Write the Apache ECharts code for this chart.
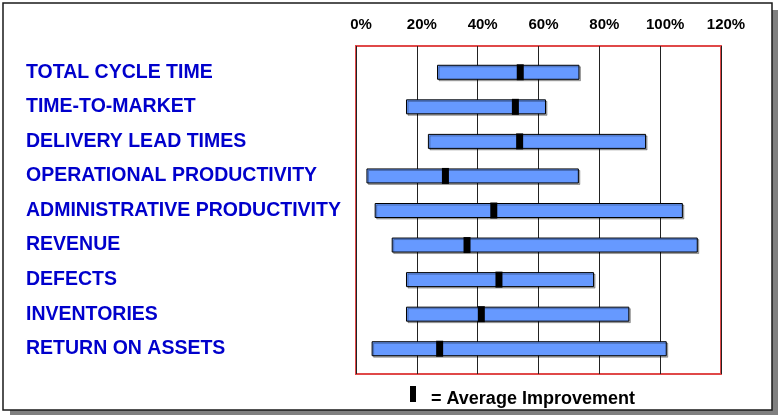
<!DOCTYPE html>
<html>
<head>
<meta charset="utf-8">
<script src="https://cdn.jsdelivr.net/npm/echarts@6/dist/echarts.min.js"></script>
<style>
html,body{margin:0;padding:0;background:#fff;}
#chart{width:778px;height:415px;}
</style>
</head>
<body>
<div id="chart"></div>
<script>
var categories = ['TOTAL CYCLE TIME','TIME-TO-MARKET','DELIVERY LEAD TIMES','OPERATIONAL PRODUCTIVITY','ADMINISTRATIVE PRODUCTIVITY','REVENUE','DEFECTS','INVENTORIES','RETURN ON ASSETS'];
var lowValues = [26.8, 16.6, 23.8, 3.6, 6.3, 11.9, 16.6, 16.6, 5.3];
var highValues = [73.3, 62.3, 95.2, 73.1, 107.3, 112.2, 78.1, 89.7, 102.0];
var averageValues = [54.0, 52.4, 53.8, 29.4, 45.3, 36.5, 47.0, 41.2, 27.5];
var xTicks = [0, 20, 40, 60, 80, 100, 120];
var legendText = '= Average Improvement';

var chart = echarts.init(document.getElementById('chart'), null, {renderer:'canvas'});

var rangeData = categories.map(function(c, i){ return [lowValues[i], highValues[i], i]; });
var avgData = categories.map(function(c, i){ return [averageValues[i], i]; });

var option = {
  animation: false,
  backgroundColor: '#fff',
  graphic: [
    {type:'rect', z:-10, shape:{x:10, y:10, width:768, height:405}, style:{fill:'#808080'}},
    {type:'rect', z:-9, shape:{x:3, y:3, width:769, height:407}, style:{fill:'#fff', stroke:'#1a1a1a', lineWidth:1.5}},
    {type:'rect', z:10, shape:{x:410, y:386, width:6, height:16}, style:{fill:'#000'}},
    {type:'text', z:10, x:431, y:399, style:{text:legendText, fill:'#000', font:'bold 18px "Liberation Sans", Arial, sans-serif', textVerticalAlign:'middle'}}
  ],
  grid: [
    {left:356, right:57, top:46, bottom:41, show:true, borderColor:'#e04848', borderWidth:2, backgroundColor:'transparent'},
    {left:356, right:57, top:55, bottom:49}
  ],
  xAxis: [
    {gridIndex:0, type:'value', position:'top', min:xTicks[0], max:xTicks[xTicks.length-1], interval:20,
     axisLine:{show:false}, axisTick:{show:false},
     axisLabel:{formatter:'{value}%', color:'#000', fontWeight:'bold', fontSize:15, fontFamily:'"Liberation Sans", Arial, sans-serif', margin:14, padding:[0,0,0,10]},
     splitLine:{show:true, lineStyle:{color:'#222', width:1}}},
    {gridIndex:1, type:'value', min:xTicks[0], max:xTicks[xTicks.length-1], show:false}
  ],
  yAxis: [
    {gridIndex:0, type:'category', data:categories, show:false},
    {gridIndex:1, type:'category', data:categories, inverse:true,
     axisLine:{show:false}, axisTick:{show:false}, splitLine:{show:false},
     axisLabel:{align:'left', margin:330, color:'#0000cc', fontWeight:'bold', fontSize:19.5, fontFamily:'"Liberation Sans", Arial, sans-serif',
       textShadowColor:'rgba(0,0,0,0.3)', textShadowOffsetX:1.5, textShadowOffsetY:1.5, textShadowBlur:0}}
  ],
  series: [
    {type:'custom', xAxisIndex:1, yAxisIndex:1, data:rangeData, z:3,
     renderItem:function(params, api){
       var s = api.coord([api.value(0), api.value(2)]);
       var e = api.coord([api.value(1), api.value(2)]);
       var h = 14;
       return {type:'rect', shape:{x:s[0], y:s[1]-h/2, width:e[0]-s[0], height:h},
         style:{fill:'#6699ff', stroke:'#000', lineWidth:1, shadowColor:'rgba(0,0,0,0.3)', shadowOffsetX:1.5, shadowOffsetY:1.5, shadowBlur:0}};
     }},
    {type:'scatter', xAxisIndex:1, yAxisIndex:1, data:avgData, z:5,
     symbol:'rect', symbolSize:[7,16], itemStyle:{color:'#000', opacity:1}}
  ]
};
chart.setOption(option);
</script>
</body>
</html>
